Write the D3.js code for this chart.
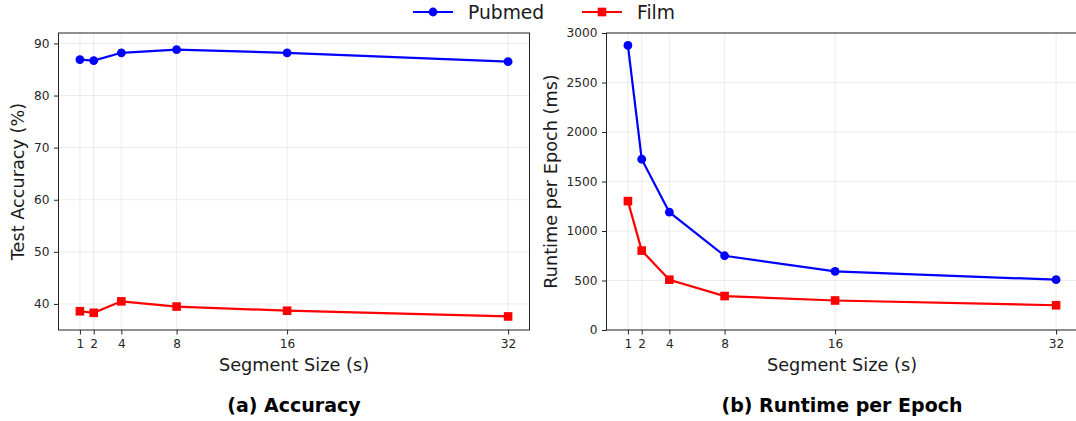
<!DOCTYPE html>
<html>
<head>
<meta charset="utf-8">
<script src="https://cdn.jsdelivr.net/npm/d3@7"></script>
<style>
  body { margin: 0; background: #fff; }
  svg { display: block; font-family: "DejaVu Sans", sans-serif; }
  .tick text { font-size: 12.2px; fill: #262626; font-family: "DejaVu Sans", sans-serif; }
</style>
</head>
<body>
<svg id="chart" width="1076" height="421"></svg>
<script>
// ---- Data ----
const segmentSizes = [1, 2, 4, 8, 16, 32];
const pubmedAccuracy = [86.9, 86.7, 88.2, 88.8, 88.2, 86.5];
const filmAccuracy   = [38.6, 38.3, 40.5, 39.5, 38.7, 37.6];
const pubmedRuntime  = [2875, 1725, 1190, 750, 592, 508];
const filmRuntime    = [1302, 802, 508, 343, 298, 250];
const accTicks = [40, 50, 60, 70, 80, 90];
const runTicks = [0, 500, 1000, 1500, 2000, 2500, 3000];
const seriesNames = ["Pubmed", "Film"];
const seriesColors = ["#0000ff", "#ff0000"];

const svg = d3.select("#chart");

function panel(opts) {
  const { left, right, top, bottom, yDomain, yTicks, yVals, yLabel, yLabelX, title } = opts;
  const x = d3.scaleLinear().domain([-0.55, 33.55]).range([left, right]);
  const y = d3.scaleLinear().domain(yDomain).range([bottom, top]);
  const g = svg.append("g");

  // grid
  g.append("g").selectAll("line").data(segmentSizes).join("line")
    .attr("x1", d => x(d)).attr("x2", d => x(d)).attr("y1", top).attr("y2", bottom)
    .attr("stroke", "#b0b0b0").attr("stroke-opacity", 0.3).attr("stroke-width", 0.8);
  g.append("g").selectAll("line").data(yTicks).join("line")
    .attr("x1", left).attr("x2", right).attr("y1", d => y(d)).attr("y2", d => y(d))
    .attr("stroke", "#b0b0b0").attr("stroke-opacity", 0.3).attr("stroke-width", 0.8);

  // axes
  const fmt = d3.format("d");
  const xAxis = d3.axisBottom(x).tickValues(segmentSizes).tickFormat(fmt).tickSize(4.5).tickPadding(4.5).tickSizeOuter(0);
  const yAxis = d3.axisLeft(y).tickValues(yTicks).tickFormat(fmt).tickSize(4.5).tickPadding(4.5).tickSizeOuter(0);
  const gx = g.append("g").attr("transform", `translate(0,${bottom})`).call(xAxis);
  const gy = g.append("g").attr("transform", `translate(${left},0)`).call(yAxis);
  [gx, gy].forEach(a => {
    a.select(".domain").remove();
    a.selectAll(".tick line").attr("stroke", "#222").attr("stroke-width", 1);
  });

  // spines
  g.append("rect").attr("x", left).attr("y", top).attr("width", right - left).attr("height", bottom - top)
    .attr("fill", "none").attr("stroke", "#222").attr("stroke-width", 1);

  // lines
  const line = d3.line().x((d, i) => x(segmentSizes[i])).y(d => y(d));
  yVals.forEach((vals, si) => {
    g.append("path").datum(vals).attr("d", line).attr("fill", "none")
      .attr("stroke", seriesColors[si]).attr("stroke-width", 2.2);
    if (si === 0) {
      g.append("g").selectAll("circle").data(vals).join("circle")
        .attr("cx", (d, i) => x(segmentSizes[i])).attr("cy", d => y(d)).attr("r", 4.4)
        .attr("fill", seriesColors[si]);
    } else {
      g.append("g").selectAll("rect").data(vals).join("rect")
        .attr("x", (d, i) => x(segmentSizes[i]) - 4.3).attr("y", d => y(d) - 4.3)
        .attr("width", 8.6).attr("height", 8.6).attr("fill", seriesColors[si]);
    }
  });

  // labels
  g.append("text").attr("x", (left + right) / 2).attr("y", 371).attr("text-anchor", "middle")
    .attr("font-size", 17.7).attr("fill", "#1a1a1a").text("Segment Size (s)");
  g.append("text").attr("transform", `translate(${yLabelX},${(top + bottom) / 2}) rotate(-90)`)
    .attr("text-anchor", "middle").attr("font-size", 17.7).attr("fill", "#1a1a1a").text(yLabel);
  g.append("text").attr("x", (left + right) / 2).attr("y", 412).attr("text-anchor", "middle")
    .attr("font-size", 19).attr("font-weight", "bold").attr("fill", "#000").text(title);
}

panel({ left: 58.5, right: 529.5, top: 33, bottom: 330, yDomain: [35, 92], yTicks: accTicks,
        yVals: [pubmedAccuracy, filmAccuracy], yLabel: "Test Accuracy (%)", yLabelX: 24,
        title: "(a) Accuracy" });
panel({ left: 606.5, right: 1077.5, top: 33, bottom: 330, yDomain: [0, 3000], yTicks: runTicks,
        yVals: [pubmedRuntime, filmRuntime], yLabel: "Runtime per Epoch (ms)", yLabelX: 557,
        title: "(b) Runtime per Epoch" });

// legend
const legendX = [413, 582];
seriesNames.forEach((name, i) => {
  const lg = svg.append("g").attr("transform", `translate(${legendX[i]},12)`);
  lg.append("line").attr("x1", 0).attr("x2", 40).attr("y1", 0).attr("y2", 0)
    .attr("stroke", seriesColors[i]).attr("stroke-width", 2.2);
  if (i === 0) lg.append("circle").attr("cx", 20).attr("cy", 0).attr("r", 4.4).attr("fill", seriesColors[i]);
  else lg.append("rect").attr("x", 15.7).attr("y", -4.3).attr("width", 8.6).attr("height", 8.6).attr("fill", seriesColors[i]);
  lg.append("text").attr("x", 55).attr("y", 6.5).attr("font-size", 18.7).attr("fill", "#1a1a1a").text(name);
});
</script>
</body>
</html>
